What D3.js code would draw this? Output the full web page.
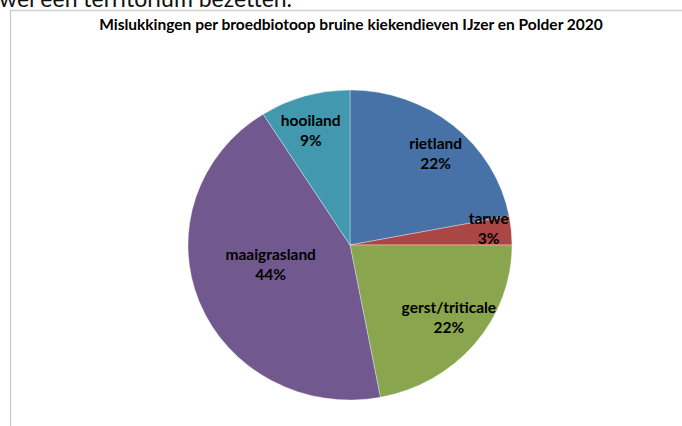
<!DOCTYPE html>
<html>
<head>
<meta charset="utf-8">
<script src="https://cdn.jsdelivr.net/npm/d3@7"></script>
<style>
  html, body { margin: 0; padding: 0; background: #fff; overflow: hidden; }
  svg { display: block; font-family: Lato, "Open Sans", sans-serif; }
</style>
</head>
<body>
<svg id="chart" width="682" height="426"></svg>
<script>
const categories = ["rietland", "tarwe", "gerst/triticale", "maaigrasland", "hooiland"];
const percentages = [22, 3, 22, 44, 9];
const colors = ["#4672a8", "#aa4744", "#89a54e", "#71588f", "#4298af"];
const title = "Mislukkingen per broedbiotoop bruine kiekendieven IJzer en Polder 2020";

const width = 682, height = 426;
const cx = 350, cy = 245, rx = 162, ry = 155;

const svg = d3.select("#chart");

// leftover text from the surrounding page, cut off at the top
svg.append("text")
  .attr("x", -1)
  .attr("y", 7)
  .attr("font-size", 23)
  .attr("fill", "#111")
  .text("wel een territorium bezetten.");

// chart frame (only top and left edges visible)
svg.append("line")
  .attr("x1", 10).attr("y1", 10.5).attr("x2", width).attr("y2", 10.5)
  .attr("stroke", "#d0d0d0").attr("stroke-width", 1.5);
svg.append("line")
  .attr("x1", 10.5).attr("y1", 10).attr("x2", 10.5).attr("y2", height)
  .attr("stroke", "#c4c4c4").attr("stroke-width", 1);

svg.append("text")
  .attr("x", 351)
  .attr("y", 30)
  .attr("text-anchor", "middle")
  .attr("font-size", 15.5)
  .attr("font-weight", "bold")
  .attr("fill", "#000")
  .text(title);

const data = categories.map((c, i) => ({ name: c, value: percentages[i], color: colors[i] }));

const pie = d3.pie().sort(null).value(d => d.value);
const arcs = pie(data);
const arc = d3.arc().innerRadius(0).outerRadius(rx);

// pie is slightly squashed vertically
const g = svg.append("g")
  .attr("transform", `translate(${cx},${cy})`);
const slices = g.append("g").attr("transform", `scale(1,${ry / rx})`);

slices.selectAll("path")
  .data(arcs)
  .enter()
  .append("path")
  .attr("d", arc)
  .attr("fill", d => d.data.color)
  .attr("stroke", "#fff")
  .attr("stroke-opacity", 0.5)
  .attr("stroke-width", 0.7);

// label distance from centre, as fraction of radius, plus small nudges
const labelRadius = { "rietland": 0.8, "tarwe": 0.86, "gerst/triticale": 0.76, "maaigrasland": 0.5, "hooiland": 0.78 };
const labelShift = {
  "rietland": [3, 5],
  "tarwe": [0, -3],
  "gerst/triticale": [4, -2],
  "maaigrasland": [-4, -9],
  "hooiland": [-4, 2]
};

const labels = g.selectAll(".lbl")
  .data(arcs)
  .enter()
  .append("text")
  .attr("class", "lbl")
  .attr("text-anchor", "middle")
  .attr("font-size", 15.5)
  .attr("font-weight", "bold")
  .attr("fill", "#000")
  .attr("transform", d => {
    const a = (d.startAngle + d.endAngle) / 2;
    const r = rx * labelRadius[d.data.name];
    const s = labelShift[d.data.name] || [0, 0];
    const x = Math.sin(a) * r + s[0];
    const y = -Math.cos(a) * r * (ry / rx) + s[1];
    return `translate(${x},${y})`;
  });

labels.append("tspan")
  .attr("x", 0)
  .attr("y", -5)
  .text(d => d.data.name);
labels.append("tspan")
  .attr("x", 0)
  .attr("y", 15)
  .text(d => d.data.value + "%");
</script>
</body>
</html>
